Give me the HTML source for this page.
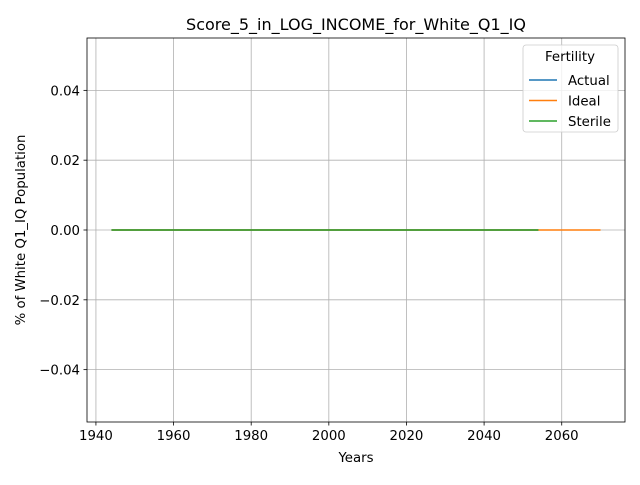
<!DOCTYPE html>
<html><head><meta charset="utf-8"><style>body{margin:0;background:#fff}svg{font-family:"DejaVu Sans","Liberation Sans",sans-serif}</style></head>
<body>
<svg id="c" width="640" height="480"></svg>
<script>
const actualYears=[1944,2054];
const actualVals=[0,0];
const idealYears=[1944,2070];
const idealVals=[0,0];
const sterileYears=[1944,2054];
const sterileVals=[0,0];
const xTicks=[1940,1960,1980,2000,2020,2040,2060];
const yTicks=[-0.04,-0.02,0.00,0.02,0.04];
const yTickLabels=["\u22120.04","\u22120.02","0.00","0.02","0.04"];
const L=87,R=625,T=38,B=422,x0=1937.7,x1=2076.3,y0=-0.055,y1=0.055;
const sx=v=>L+(v-x0)/(x1-x0)*(R-L), sy=v=>B-(v-y0)/(y1-y0)*(B-T);
const svg=document.getElementById('c');const NS='http://www.w3.org/2000/svg';
function mk(t,a,txt){const e=document.createElementNS(NS,t);for(const k in a)e.setAttribute(k,a[k]);if(txt!==undefined)e.textContent=txt;svg.appendChild(e);return e;}
xTicks.forEach(v=>{const x=sx(v);
const g=mk('line',{x1:x,x2:x,y1:T,y2:B,stroke:'#b0b0b0','stroke-width':0.8});

const t=mk('line',{x1:x,x2:x,y1:B,y2:B+3.5,stroke:'#000','stroke-width':0.8});

const l=mk('text',{x:x,y:B+18,'text-anchor':'middle','font-size':13.3},v);
});
yTicks.forEach((v,i)=>{const y=sy(v);
const g=mk('line',{x1:L,x2:R,y1:y,y2:y,stroke:'#b0b0b0','stroke-width':0.8});

const t=mk('line',{x1:L-3.5,x2:L,y1:y,y2:y,stroke:'#000','stroke-width':0.8});

const l=mk('text',{x:L-7,y:y+5,'text-anchor':'end','font-size':13.3},yTickLabels[i]);
});
function series(xs,vs,c,n){const p=mk('polyline',{points:xs.map((x,i)=>sx(x)+','+sy(vs[i])).join(' '),fill:'none',stroke:c,'stroke-width':1.5});
}
series(actualYears,actualVals,'#1f77b4','actual-line');
series(idealYears,idealVals,'#ff7f0e','ideal-line');
series(sterileYears,sterileVals,'#2ca02c','sterile-line');
const f=mk('rect',{x:L,y:T,width:R-L,height:B-T,fill:'none',stroke:'#000','stroke-width':0.8});

let e=mk('text',{x:(L+R)/2,y:T-8,'text-anchor':'middle','font-size':16},'Score_5_in_LOG_INCOME_for_White_Q1_IQ');

e=mk('text',{x:(L+R)/2,y:462,'text-anchor':'middle','font-size':13.3},'Years');

e=mk('text',{x:25,y:230,'text-anchor':'middle','font-size':13.3,transform:'rotate(-90 25 230)'},'% of White Q1_IQ Population');

e=mk('rect',{x:523,y:45,width:95,height:87,rx:3,fill:'#fff','fill-opacity':0.8,stroke:'#ccc','stroke-width':0.8});

e=mk('text',{x:570,y:61,'text-anchor':'middle','font-size':13.3},'Fertility');

[['Actual','#1f77b4'],['Ideal','#ff7f0e'],['Sterile','#2ca02c']].forEach((d,i)=>{const y=80+i*20.5;
const ln=mk('line',{x1:529,x2:557,y1:y,y2:y,stroke:d[1],'stroke-width':1.5});

const t=mk('text',{x:568,y:y+5,'font-size':13.3},d[0]);
});
</script>
</body></html>
